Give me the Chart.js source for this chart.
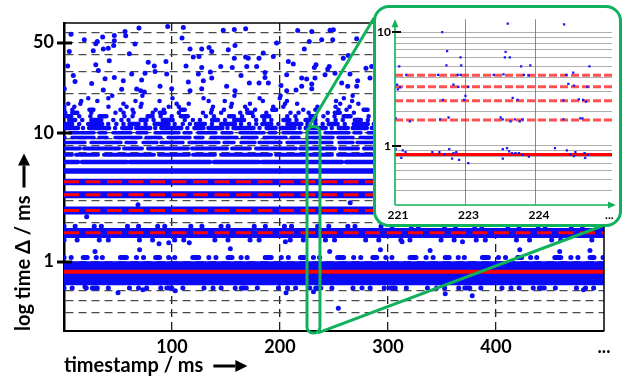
<!DOCTYPE html>
<html>
<head>
<meta charset="utf-8">
<title>log time delta over timestamp</title>
<script src="https://cdn.jsdelivr.net/npm/chart.js@4.4.1/dist/chart.umd.min.js"></script>
<style>
  html, body { margin: 0; padding: 0; background: #ffffff; }
  #stage { position: relative; width: 624px; height: 380px; overflow: hidden; }
  #main-chart { position: absolute; left: 0; top: 0; }
  #inset-box {
    position: absolute; left: 373px; top: 5px; width: 243px; height: 216px;
    border: 3px solid #0fb25a; border-radius: 16px; background: #ffffff;
  }
  #inset-chart { position: absolute; left: 0; top: 0; }
</style>
</head>
<body>
<div id="stage">
  <canvas id="main-chart" width="624" height="380"></canvas>
  <div id="inset-box"><canvas id="inset-chart" width="243" height="216"></canvas></div>
</div>
<script>
const GREEN = '#0fb25a';
const BLUE = '#0a0af7';
const RED = '#ff0000';
const FONT = 'Lato, "Open Sans", sans-serif';

// main chart data
const timeRange = [0, 500];
const xTickValues = [100, 200, 300, 400, 500];
const xTickLabels = ['100', '200', '300', '400', '...'];
const yTickValues = [1, 10, 50];
const yTickLabels = ['1', '10', '50'];
const yGridValues = [0.4, 0.5, 0.6, 0.7, 0.8, 0.9, 1, 2, 3, 4, 5, 6, 7, 8, 9, 10, 20, 30, 40, 50, 60];
const xTitle = 'timestamp / ms';
const yTitle = 'log time Δ / ms';

// dense bands (multiples of the base period)
const bandLevels = [0.815, 1.67, 2.49, 3.3, 4.15, 5.05, 5.92, 6.75, 7.55, 8.4, 9.2, 10.0];
// looser rows above 10 ms
const rowLevels = [10.9, 11.7, 12.55, 13.4, 14.3, 15.1, 15.9, 16.8, 17.6, 18.5, 19.4];
// ragged edges of the two lowest bands
const fringeLevels = [1.08, 0.625, 1.88, 1.47];
// red reference levels
const redLevels = [0.837, 1.68, 2.49, 3.3, 4.17];

// sparse points above 20 ms
const topX = [96,110.5,69.4,168.2,157.7,147.5,56.5,216.4,229.4,249.4,
  246.3,6.5,46.6,57.1,35.8,109.3,18.8,30.8,46.6,227.1,
  238.6,248.8,196.9,29.4,46,65.7,158.3,152.1,41,36.4,
  116.7,127.5,134.3,136.8,4.9,27.1,60.5,119.7,125,157.7,
  168.2,170.6,180.6,184.5,193.8,222.5,271,258.6,263.2,41.9,
  29.4,3.4,78,94.4,83.6,113,127.5,145.1,155.8,169.2,
  178.4,207.7,212.3,233.3,245.6,244.2,231.8,279.6,284.9,31.8,
  75,84.3,62.7,95.1,124.4,135.5,136.8,163.9,186.1,186.1,
  206.2,220.1,224.7,232.4,241.7,250.9,264.8,8.6,10.2,25.6,
  38,46.6,54.9,71.9,88.9,99.7,115.1,129,150.6,171.6,
  180.6,189.2,200.9,220.1,229.4,257.1,262.7,271.9,271,283.3,
  0.3,36.4,53.4,67.3,71,74.4,116.7,127.5,158.3,206.2,214.8,229.4];
const topY = [66.7,65.5,64.8,64,63.2,62.5,61,62.1,61,62.9,
  62.5,58.2,56.8,56.5,55.2,54.2,52.6,51,51.7,51,
  52.6,52.6,49.6,49,47.5,48.7,47.5,44,45.3,44.6,
  44.6,44.6,45.8,42.7,42.7,43.2,41,38.6,39,37.9,
  38.6,37.9,37.9,41.5,39,44.6,53.5,37.9,39.7,36.1,
  33.7,33,35.3,35.7,33,33,32.1,32.7,32.1,32.7,
  32.7,35.7,34.1,33.7,32.7,31.2,32.1,31.7,32.7,30.4,
  29,29.9,28.5,28.5,28.5,29.6,26.6,27.8,29.3,26.8,
  28.2,26.6,26.1,26.6,28.2,29,28.5,27.8,25,24.1,
  26.2,26.8,25.3,25.6,22.9,21.9,24.7,25.3,22.9,24.3,
  24.3,24.3,23.3,22.9,23.9,24.3,22.9,25.3,22.9,26.6,
  21.9,21.5,21.7,21.8,21.2,20.7,21.2,21.9,21.2,21.2,21.5,21.9];

// stray points around the low bands
const strayX = [88,97,116,205,313,369,21,68.5,265,254,353,378,481,231,50,73,205.6,19.4,103,28.7,70,154,246,293,339,422,459,487];
const strayY = [1.38,1.4,1.4,1.43,1.43,1.43,2.23,2.77,2.87,0.435,0.565,0.545,0.607,0.585,0.575,0.607,0.575,0.64,0.595,1.2,1.24,1.26,1.2,1.24,1.22,1.24,1.2,1.22];

// zoomed window shown in the inset
const zoomWindowX = [225, 237];
const zoomWindowY = [0.28, 11.2];

// inset data
const insetRange = [0, 3.08];
const insetTickValues = [0, 1, 2, 3];
const insetTickLabels = ['221', '223', '224', '...'];
const insetYTicks = [1, 10];
const insetYLabels = ['1', '10'];
const insetGridValues = [0.4, 0.5, 0.6, 0.7, 0.8, 0.9, 1, 2, 3, 4, 5, 6, 7, 8, 9, 10];
const insetX = [1.6,2.4,0.67,0.74,1.57,1.56,1.63,0.93,0.73,0.94,0.06,1.79,1.92,2.76,2.53,
  0.16,0.61,0.89,0.93,1.4,1.54,1.83,1.9,2.43,
  0.03,0.04,0.07,0.83,0.9,1.04,2.46,2.54,2.73,
  0.68,0.98,1.0,1.67,1.74,2.39,2.61,2.67,2.71,
  0.01,0.21,0.64,0.76,1.5,1.53,1.64,1.7,1.77,1.81,2.39,2.63,2.66,
  0.01,0.09,0.11,0.15,0.53,0.63,0.7,0.77,0.81,0.83,
  0.87,0.91,1.04,1.53,1.53,1.59,1.62,1.66,1.71,1.76,
  1.81,1.9,2.27,2.44,2.49,2.54,2.56,2.69,2.7,2.74];
const insetY = [11.9,11.7,10.0,6.8,6.7,6.0,6.0,6.0,5.1,5.1,5.0,5.0,5.1,5.0,4.4,
  4.2,4.2,4.2,4.2,4.2,4.25,4.2,4.15,4.2,
  3.44,3.13,3.26,3.44,3.3,3.3,3.5,3.38,3.3,
  2.53,2.53,2.74,2.64,2.53,2.5,2.56,2.53,2.44,
  1.74,1.64,1.7,1.77,1.77,1.7,1.64,1.7,1.64,1.7,1.7,1.74,1.74,
  0.93,0.78,0.91,0.875,0.875,0.875,0.84,0.93,0.77,0.86,
  0.875,0.75,0.70,0.93,0.77,0.95,0.89,0.86,0.86,0.86,
  0.83,0.8,0.95,0.91,0.84,0.81,0.875,0.86,0.78,0.83];

// styles for the band strokes
const bandWidths = [24, 10, 8, 7, 6.5, 5.5, 4.5, 4, 4, 3.5, 3.5, 3.5];
const bandDashes = [[], [], [], [], [], [], [80, 4, 45, 3], [50, 5, 30, 4, 22, 6],
  [35, 5, 18, 6, 40, 4], [22, 6, 30, 5, 10, 7, 14, 4], [15, 7, 22, 5, 8, 8, 26, 5], [18, 6, 10, 8, 24, 5, 7, 7]];
const rowDashes = [
  [14, 5, 0.1, 6, 20, 6, 0.1, 7, 9, 5],
  [0.1, 6, 9, 7, 0.1, 9, 14, 6, 0.1, 8, 0.1, 7],
  [0.1, 7, 0.1, 12, 6, 7, 0.1, 9, 10, 12, 0.1, 8],
  [0.1, 8, 0.1, 15, 5, 8, 0.1, 11, 0.1, 9, 7, 18],
  [0.1, 10, 0.1, 19, 0.1, 7, 5, 14, 0.1, 24, 0.1, 8],
  [0.1, 12, 0.1, 23, 0.1, 8, 0.1, 17, 4, 27],
  [0.1, 14, 0.1, 28, 0.1, 10, 0.1, 34, 0.1, 18],
  [0.1, 18, 0.1, 35, 0.1, 12, 0.1, 43],
  [0.1, 24, 0.1, 49, 0.1, 16, 0.1, 38],
  [0.1, 31, 0.1, 56, 0.1, 20, 0.1, 64],
  [0.1, 46, 0.1, 72, 0.1, 30, 0.1, 92]];
const fringeDashes = [
  [0.1, 7, 0.1, 12, 4, 9, 0.1, 6, 0.1, 18, 6, 10],
  [0.1, 8, 0.1, 14, 0.1, 6, 5, 11, 0.1, 21, 0.1, 9],
  [0.1, 11, 0.1, 19, 0.1, 7, 0.1, 26],
  [0.1, 13, 0.1, 22, 0.1, 9, 0.1, 31]];

function levelLine(level, range, style) {
  return Object.assign({
    data: range.map((t) => ({ x: t, y: level })),
    showLine: true,
    pointRadius: 0,
    borderColor: BLUE,
    borderCapStyle: 'round',
    fill: false,
  }, style);
}

function drawArrow(ctx, x1, y1, x2, y2) {
  const angle = Math.atan2(y2 - y1, x2 - x1);
  const head = 12;
  const bx = x2 - head * Math.cos(angle);
  const by = y2 - head * Math.sin(angle);
  ctx.lineWidth = 3;
  ctx.beginPath();
  ctx.moveTo(x1, y1);
  ctx.lineTo(bx, by);
  ctx.stroke();
  ctx.beginPath();
  ctx.moveTo(x2, y2);
  ctx.lineTo(bx + 6 * Math.sin(angle), by - 6 * Math.cos(angle));
  ctx.lineTo(bx - 6 * Math.sin(angle), by + 6 * Math.cos(angle));
  ctx.closePath();
  ctx.fill();
}

const mainDecor = {
  id: 'mainDecor',
  afterDatasetsDraw(chart) {
    const { ctx, chartArea: a, scales: { x, y } } = chart;
    ctx.save();
    ctx.strokeStyle = '#000';
    ctx.lineWidth = 1.5;
    ctx.beginPath();
    ctx.moveTo(a.left, a.top);
    ctx.lineTo(a.right, a.top);
    ctx.lineTo(a.right, a.bottom);
    ctx.stroke();

    ctx.lineWidth = 3;
    yTickValues.forEach((v) => {
      const py = Math.round(y.getPixelForValue(v));
      ctx.beginPath();
      ctx.moveTo(a.left - 7, py);
      ctx.lineTo(a.left + 8, py);
      ctx.stroke();
    });

    // zoom window and the lines to the inset
    const left = x.getPixelForValue(zoomWindowX[0]);
    const right = x.getPixelForValue(zoomWindowX[1]);
    const top = y.getPixelForValue(zoomWindowY[1]);
    const bottom = y.getPixelForValue(zoomWindowY[0]);
    const box = document.getElementById('inset-box');
    const boxLeft = box.offsetLeft;
    const boxTop = box.offsetTop;
    const boxRight = boxLeft + box.offsetWidth;
    const boxBottom = boxTop + box.offsetHeight;

    ctx.strokeStyle = GREEN;
    ctx.lineWidth = 3;
    ctx.lineJoin = 'round';
    ctx.beginPath();
    ctx.roundRect(left, top, right - left, bottom - top, 6);
    ctx.stroke();
    ctx.beginPath();
    ctx.moveTo(left + 2, top);
    ctx.lineTo(boxLeft + 1, boxTop + 13);
    ctx.moveTo(right - 2, bottom);
    ctx.lineTo(boxRight - 20, boxBottom - 1);
    ctx.stroke();
    ctx.restore();
  },
  afterDraw(chart) {
    const { ctx, chartArea: a } = chart;
    ctx.save();
    ctx.font = 'bold 20px ' + FONT;
    ctx.fillStyle = '#000';
    ctx.strokeStyle = '#000';
    const wx = ctx.measureText(xTitle).width;
    const titleMidX = chart.height - 2 - 12;
    drawArrow(ctx, a.left + wx + 10, titleMidX, a.left + wx + 44, titleMidX);
    const wy = ctx.measureText(yTitle).width;
    const titleMidY = 12 + 12;
    drawArrow(ctx, titleMidY, a.bottom - wy - 8, titleMidY, a.bottom - wy - 42);
    ctx.restore();
  },
};

const mainDatasets = [
  ...redLevels.map((lv, i) => levelLine(lv, timeRange, {
    borderColor: RED,
    borderWidth: i === 0 ? 4 : 3,
    borderDash: i === 0 ? [] : [15, 6.5],
    borderCapStyle: 'butt',
    order: 0,
  })),
  {
    data: topX.map((t, i) => ({ x: t, y: topY[i] }))
      .concat(strayX.map((t, i) => ({ x: t, y: strayY[i] }))),
    pointRadius: 2.5,
    pointBackgroundColor: BLUE,
    pointBorderWidth: 0,
    showLine: false,
    order: 1,
  },
  ...fringeLevels.map((lv, i) => levelLine(lv, timeRange, {
    borderWidth: 5, borderDash: fringeDashes[i], order: 2,
  })),
  ...rowLevels.map((lv, i) => levelLine(lv, timeRange, {
    borderWidth: 4.5, borderDash: rowDashes[i], borderDashOffset: i * 7, order: 3,
  })),
  ...bandLevels.map((lv, i) => levelLine(lv, timeRange, {
    borderWidth: bandWidths[i], borderDash: bandDashes[i], borderDashOffset: i * 11, order: 4,
  })),
];

new Chart(document.getElementById('main-chart'), {
  type: 'scatter',
  data: { datasets: mainDatasets },
  options: {
    responsive: false,
    animation: false,
    devicePixelRatio: 1,
    layout: { padding: { top: 23, right: 20, left: 0, bottom: 0 } },
    plugins: { legend: { display: false }, tooltip: { enabled: false } },
    scales: {
      x: {
        type: 'linear',
        min: timeRange[0],
        max: timeRange[1],
        afterBuildTicks: (scale) => { scale.ticks = xTickValues.map((value) => ({ value })); },
        afterFit: (scale) => { scale.height = 49; },
        ticks: {
          callback: (value) => xTickLabels[xTickValues.indexOf(value)] || '',
          font: { family: FONT, weight: 'bold', size: 18 },
          color: '#000',
          padding: 5,
          maxRotation: 0,
          autoSkip: false,
        },
        grid: {
          color: (ctx) => (ctx.tick && ctx.tick.value === timeRange[1] ? 'rgba(0,0,0,0)' : '#1e1e1e'),
          lineWidth: 1.3,
          drawTicks: false,
        },
        border: { display: true, color: '#000', width: 2, dash: [8, 5] },
        title: {
          display: true,
          text: xTitle,
          align: 'start',
          color: '#000',
          font: { family: FONT, weight: 'bold', size: 20 },
          padding: { top: 0, bottom: 2 },
        },
      },
      y: {
        type: 'logarithmic',
        min: 0.29,
        max: 71,
        afterBuildTicks: (scale) => { scale.ticks = yGridValues.map((value) => ({ value })); },
        afterFit: (scale) => { scale.width = 64; },
        ticks: {
          callback: (value) => yTickLabels[yTickValues.indexOf(value)] || '',
          font: { family: FONT, weight: 'bold', size: 18 },
          color: '#000',
          padding: 10,
          autoSkip: false,
        },
        grid: { color: '#4a4a4a', lineWidth: 1.3, drawTicks: false },
        border: { display: true, color: '#000', width: 2.5, dash: [8, 5] },
        title: {
          display: true,
          text: yTitle,
          align: 'start',
          color: '#000',
          font: { family: FONT, weight: 'bold', size: 20 },
          padding: { top: 12, bottom: 0 },
        },
      },
    },
  },
  plugins: [mainDecor],
});

// inset chart
const insetAxes = {
  id: 'insetAxes',
  afterDraw(chart) {
    const { ctx, chartArea: a, scales: { y } } = chart;
    ctx.save();
    ctx.strokeStyle = GREEN;
    ctx.fillStyle = GREEN;
    ctx.lineWidth = 1.6;
    ctx.beginPath();
    ctx.moveTo(a.left, a.bottom);
    ctx.lineTo(a.left, a.top + 6);
    ctx.moveTo(a.left, a.bottom);
    ctx.lineTo(a.right, a.bottom);
    ctx.stroke();
    ctx.beginPath();
    ctx.moveTo(a.left, a.top);
    ctx.lineTo(a.left - 3.5, a.top + 8);
    ctx.lineTo(a.left + 3.5, a.top + 8);
    ctx.closePath();
    ctx.fill();
    ctx.beginPath();
    ctx.moveTo(a.right + 4, a.bottom);
    ctx.lineTo(a.right - 4, a.bottom - 3.5);
    ctx.lineTo(a.right - 4, a.bottom + 3.5);
    ctx.closePath();
    ctx.fill();
    ctx.strokeStyle = '#000';
    ctx.lineWidth = 2;
    insetYTicks.forEach((v) => {
      const py = Math.round(y.getPixelForValue(v));
      ctx.beginPath();
      ctx.moveTo(a.left - 3, py);
      ctx.lineTo(a.left + 6, py);
      ctx.stroke();
    });
    ctx.restore();
  },
};

new Chart(document.getElementById('inset-chart'), {
  type: 'scatter',
  data: {
    datasets: [
      ...redLevels.map((lv, i) => levelLine(lv, insetRange, {
        borderColor: i === 0 ? RED : 'rgba(255,50,50,0.85)',
        borderWidth: 3,
        borderDash: i === 0 ? [] : [8, 3],
        borderCapStyle: 'butt',
        order: 1,
      })),
      {
        data: insetX.map((t, i) => ({ x: t, y: insetY[i] })),
        pointStyle: 'rect',
        pointRadius: 1.6,
        pointBackgroundColor: '#1616ff',
        pointBorderWidth: 0,
        showLine: false,
        order: 0,
      },
    ],
  },
  options: {
    responsive: false,
    animation: false,
    devicePixelRatio: 1,
    layout: { padding: { top: 5, right: 7, left: 0, bottom: 0 } },
    plugins: { legend: { display: false }, tooltip: { enabled: false } },
    scales: {
      x: {
        type: 'linear',
        min: insetRange[0],
        max: insetRange[1],
        afterBuildTicks: (scale) => { scale.ticks = insetTickValues.map((value) => ({ value })); },
        afterFit: (scale) => { scale.height = 19; },
        ticks: {
          callback: (value) => insetTickLabels[insetTickValues.indexOf(value)] || '',
          font: { family: FONT, weight: 'bold', size: 12 },
          color: '#000',
          padding: 3,
          labelOffset: 3,
          maxRotation: 0,
          autoSkip: false,
        },
        grid: {
          color: (ctx) => (ctx.tick && (ctx.tick.value === 1 || ctx.tick.value === 2) ? 'rgba(90,90,90,0.7)' : 'rgba(0,0,0,0)'),
          lineWidth: 1,
          drawTicks: false,
        },
        border: { display: false },
      },
      y: {
        type: 'logarithmic',
        min: 0.338,
        max: 13,
        afterBuildTicks: (scale) => { scale.ticks = insetGridValues.map((value) => ({ value })); },
        afterFit: (scale) => { scale.width = 19; },
        ticks: {
          callback: (value) => insetYLabels[insetYTicks.indexOf(value)] || '',
          font: { family: FONT, weight: 'bold', size: 12 },
          color: '#000',
          padding: 4,
          autoSkip: false,
        },
        grid: { color: 'rgba(110,110,110,0.55)', lineWidth: 1, drawTicks: false },
        border: { display: false },
      },
    },
  },
  plugins: [insetAxes],
});
</script>
</body>
</html>
